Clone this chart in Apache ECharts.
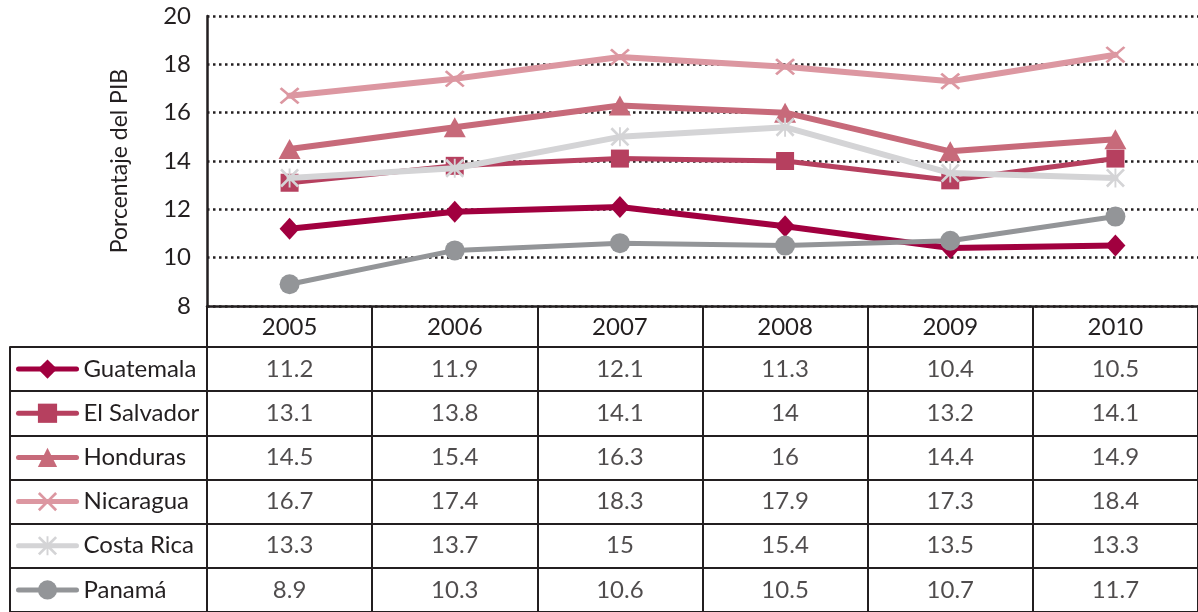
<!DOCTYPE html>
<html>
<head>
<meta charset="utf-8">
<script src="https://cdn.jsdelivr.net/npm/echarts@6/dist/echarts.min.js"></script>
<style>html,body{margin:0;padding:0;background:#fff}#c{width:1198px;height:612px}</style>
</head>
<body>
<div id="c"></div>
<script>
const years = ['2005', '2006', '2007', '2008', '2009', '2010'];
const countries = ['Guatemala', 'El Salvador', 'Honduras', 'Nicaragua', 'Costa Rica', 'Panamá'];
const guatemala = [11.2, 11.9, 12.1, 11.3, 10.4, 10.5];
const elSalvador = [13.1, 13.8, 14.1, 14, 13.2, 14.1];
const honduras = [14.5, 15.4, 16.3, 16, 14.4, 14.9];
const nicaragua = [16.7, 17.4, 18.3, 17.9, 17.3, 18.4];
const costaRica = [13.3, 13.7, 15, 15.4, 13.5, 13.3];
const panama = [8.9, 10.3, 10.6, 10.5, 10.7, 11.7];
const yTicks = { min: 8, max: 20, interval: 2 };
const axisTitle = 'Porcentaje del PIB';

const seriesValues = [guatemala, elSalvador, honduras, nicaragua, costaRica, panama];
const colors = ['#A1003F', '#B6405F', '#C76A7A', '#DC97A1', '#D4D4D6', '#939598'];
const X_PATH = 'path://M0,2 L2,0 L10,8 L18,0 L20,2 L12,10 L20,18 L18,20 L10,12 L2,20 L0,18 L8,10 Z';
const AST_PATH = 'path://M0,2 L2,0 L10,8 L18,0 L20,2 L12,10 L20,18 L18,20 L10,12 L2,20 L0,18 L8,10 Z M9,0 L11,0 L11,20 L9,20 Z';
const symbols = ['diamond', 'rect', 'triangle', X_PATH, AST_PATH, 'circle'];
const symbolSizes = [[20, 22], 18, [22, 20], [20, 17], 19, 20];
const lineWidths = [6, 5, 6, 6, 6, 5];

const FONT = 'Lato';
const TXT = '#231f20';
const FS = 24;
const rowTop = 347, rowH = 265 / 6;

const chart = echarts.init(document.getElementById('c'), null, { renderer: 'canvas' });

const lineSeries = countries.map((name, i) => ({
  name: name,
  type: 'line',
  xAxisIndex: 0, yAxisIndex: 0,
  data: seriesValues[i],
  symbol: symbols[i],
  symbolSize: symbolSizes[i],
  showAllSymbol: true,
  color: colors[i],
  lineStyle: { color: colors[i], width: lineWidths[i], cap: 'round' },
  itemStyle: { color: colors[i] },
  z: 3 + i
}));

const tableData = [];
countries.forEach((c, ci) => {
  years.forEach((y, yi) => {
    tableData.push([y, c, seriesValues[ci][yi]]);
  });
});

const legends = countries.map((name, i) => ({
  data: [name],
  orient: 'vertical',
  left: 16,
  top: rowTop + rowH * i + rowH / 2 - 12,
  padding: 0,
  itemWidth: 58,
  itemHeight: 24,
  itemGap: 0,
  lineStyle: { width: 5, cap: 'round' },
  textStyle: { fontFamily: FONT, fontSize: FS, color: TXT, padding: [0, 0, 0, 2] }
}));

chart.setOption({
  animation: false,
  backgroundColor: '#ffffff',
  textStyle: { fontFamily: FONT },
  legend: legends,
  grid: [
    { left: 207, top: 16, width: 999, height: 290 },
    { left: 207, top: rowTop, width: 999, height: 265 }
  ],
  xAxis: [
    {
      type: 'category', gridIndex: 0, data: years, boundaryGap: true,
      axisLine: { show: true, lineStyle: { color: TXT, width: 2.5 } },
      axisTick: { show: true, length: 41, interval: 0, lineStyle: { color: TXT, width: 2 } },
      axisLabel: { fontFamily: FONT, fontSize: FS, color: TXT, margin: 9, interval: 0 },
      splitLine: { show: false }
    },
    {
      type: 'category', gridIndex: 1, data: years, boundaryGap: true, position: 'top',
      axisLine: { show: true, lineStyle: { color: TXT, width: 2 } },
      axisTick: { show: false },
      axisLabel: { show: false },
      splitLine: { show: true, interval: 0, lineStyle: { color: TXT, width: 2 } }
    }
  ],
  yAxis: [
    {
      type: 'value', gridIndex: 0, min: yTicks.min, max: yTicks.max, interval: yTicks.interval,
      name: axisTitle, nameLocation: 'middle', nameGap: 76, nameRotate: 90,
      nameTextStyle: { fontFamily: FONT, fontSize: 23, color: TXT },
      axisLine: { show: true, lineStyle: { color: TXT, width: 2.5 } },
      axisTick: { show: false },
      axisLabel: { fontFamily: FONT, fontSize: FS, color: TXT, margin: 16 },
      splitLine: { show: true, lineStyle: { color: TXT, width: 2.5, type: [2.5, 3.5] } }
    },
    {
      type: 'category', gridIndex: 1, data: countries, inverse: true, boundaryGap: true,
      axisLine: { show: true, lineStyle: { color: TXT, width: 2 } },
      axisTick: { show: true, length: 197, interval: 0, lineStyle: { color: TXT, width: 2 } },
      axisLabel: { show: false },
      splitLine: { show: true, interval: 0, lineStyle: { color: TXT, width: 2 } }
    },
    {
      type: 'value', gridIndex: 1, min: 0, max: 1, position: 'left', offset: 197,
      axisLine: { show: true, lineStyle: { color: TXT, width: 2 } },
      axisTick: { show: false }, axisLabel: { show: false }, splitLine: { show: false }
    }
  ],
  series: lineSeries.concat([{
    type: 'scatter',
    xAxisIndex: 1, yAxisIndex: 1,
    data: tableData,
    symbolSize: 0,
    silent: true,
    label: {
      show: true, position: 'inside',
      formatter: p => String(p.data[2]),
      fontFamily: FONT, fontSize: FS, color: TXT
    }
  }])
});
</script>
</body>
</html>
